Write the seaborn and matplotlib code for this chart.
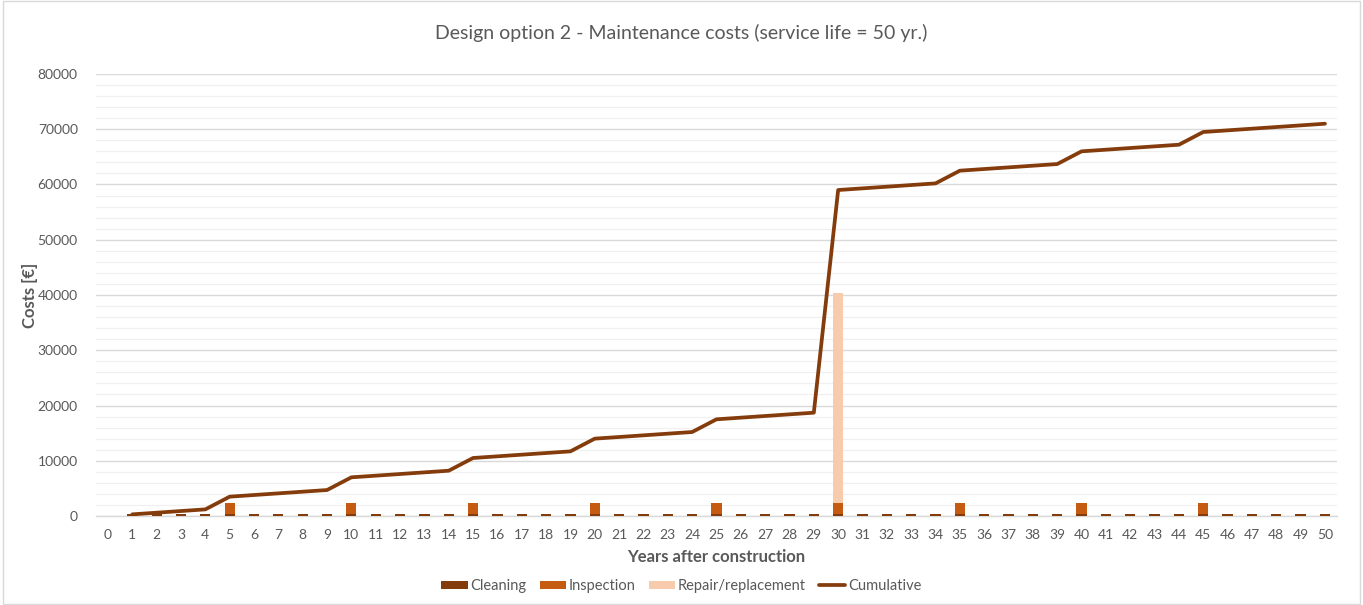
import numpy as np
import pandas as pd
import matplotlib
matplotlib.use("Agg")
import matplotlib.pyplot as plt
from matplotlib.patches import Patch, Rectangle
from matplotlib.lines import Line2D
from matplotlib.ticker import MultipleLocator
import seaborn as sns

# Yearly maintenance costs (EUR), years 0..50
years = list(range(0, 51))
cleaning = [0] + [300] * 50
inspection = [0, 0, 0, 0, 0, 2000, 0, 0, 0, 0, 2000,
              0, 0, 0, 0, 2000, 0, 0, 0, 0, 2000,
              0, 0, 0, 0, 2000, 0, 0, 0, 0, 2000,
              0, 0, 0, 0, 2000, 0, 0, 0, 0, 2000,
              0, 0, 0, 0, 2000, 0, 0, 0, 0, 0]
repair = [0] * 30 + [38000] + [0] * 20

C_CLEAN = "#843C0C"
C_INSP = "#C55A11"
C_REP = "#F8CBAD"
C_CUM = "#843C0C"
TXT = "#595959"

df = pd.DataFrame({"year": years, "cleaning": cleaning,
                   "inspection": inspection, "repair": repair})
df["lvl1"] = df["cleaning"]
df["lvl2"] = df["cleaning"] + df["inspection"]
df["lvl3"] = df["lvl2"] + df["repair"]
df["cumulative"] = df["lvl3"].cumsum()
line_df = df[df["year"] >= 1]

sns.set_theme(style="white")
plt.rcParams["font.family"] = ["Lato", "DejaVu Sans"]

fig = plt.figure(figsize=(13.63, 6.05), dpi=100)
ax_rect = [0.0703, 0.1471, 0.9107, 0.7306]
ax = fig.add_axes(ax_rect)

bw = 0.42
bar_kw = dict(width=bw, saturation=1, ax=ax, edgecolor="none", linewidth=0)
# stacked bars: draw running totals from the top layer down
sns.barplot(data=df, x="year", y="lvl3", color=C_REP, zorder=2, **bar_kw)
sns.barplot(data=df, x="year", y="lvl2", color=C_INSP, zorder=3, **bar_kw)
sns.barplot(data=df, x="year", y="lvl1", color=C_CLEAN, zorder=4, **bar_kw)

sns.lineplot(data=line_df, x="year", y="cumulative", color=C_CUM,
             linewidth=2.7, ax=ax, zorder=5)

ax.set_xlim(-0.5, 50.5)
ax.set_ylim(0, 80000)
ax.yaxis.set_major_locator(MultipleLocator(10000))
ax.yaxis.set_minor_locator(MultipleLocator(2000))
ax.grid(which="major", axis="y", color="#D9D9D9", linewidth=1.0, zorder=0)
ax.grid(which="minor", axis="y", color="#F0F0F0", linewidth=0.9, zorder=0)
ax.set_axisbelow(True)
for s in ["top", "right", "left"]:
    ax.spines[s].set_visible(False)
ax.spines["bottom"].set_color("#D9D9D9")
ax.spines["bottom"].set_linewidth(1.0)

ax.tick_params(axis="both", which="both", length=0, labelsize=10,
               labelcolor=TXT)
ax.tick_params(axis="x", pad=9)
ax.tick_params(axis="y", pad=13)
ax.set_xticks(range(len(years)))
ax.set_xticklabels([str(y) for y in years])

ax.set_xlabel("Years after construction", fontsize=12, fontweight="bold",
              color=TXT, labelpad=6)
ax.set_ylabel("Costs [€]", fontsize=12, fontweight="bold", color=TXT)
ylabel_x = (38 / 1363 - ax_rect[0]) / ax_rect[2]
ax.yaxis.set_label_coords(ylabel_x, 0.5)

fig.text(0.5, 1 - 33 / 605, "Design option 2 - Maintenance costs (service life = 50 yr.)",
         ha="center", va="center", fontsize=14, color=TXT)

handles = [Patch(facecolor=C_CLEAN, edgecolor="none"),
           Patch(facecolor=C_INSP, edgecolor="none"),
           Patch(facecolor=C_REP, edgecolor="none"),
           Line2D([0], [0], color=C_CUM, linewidth=2.7)]
labels = ["Cleaning", "Inspection", "Repair/replacement", "Cumulative"]
fig.legend(handles, labels, loc="center", bbox_to_anchor=(0.5, 1 - 586 / 605),
           ncol=4, frameon=False, fontsize=10.5, labelcolor=TXT,
           handlelength=1.8, handleheight=0.5, handletextpad=0.2,
           columnspacing=0.9)

fig.patches.append(Rectangle((0.002, 0.002), 0.996, 0.996, transform=fig.transFigure,
                             fill=False, edgecolor="#D9D9D9", linewidth=1.0))

fig.savefig("out.png", dpi=100, facecolor="white")
